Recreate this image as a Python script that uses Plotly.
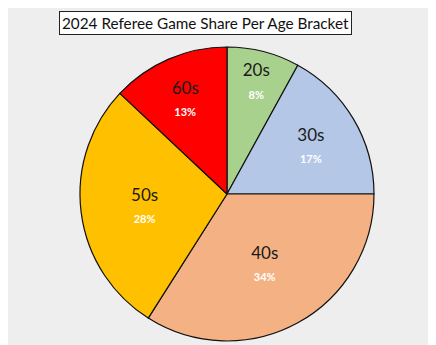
import plotly.graph_objects as go

age_brackets = ["20s", "30s", "40s", "50s", "60s"]
game_share = [8, 17, 34, 28, 13]
slice_colours = ["#A9D18E", "#B4C7E7", "#F4B183", "#FFC000", "#FF0000"]

W, H = 436, 345
# page body adds an 8px offset, so target positions are shifted back by 8
off = 8
cx, cy, r = 227 - off, 194 - off, 147

fig = go.Figure()

fig.add_trace(
    go.Pie(
        labels=age_brackets,
        values=game_share,
        sort=False,
        direction="clockwise",
        rotation=0,
        marker=dict(colors=slice_colours, line=dict(color="#111111", width=1.2)),
        texttemplate="%{label}<br><span style='font-size:11px;color:white'><b>%{percent:.0%}</b></span>",
        textposition="inside",
        insidetextorientation="horizontal",
        textfont=dict(family="Lato", size=17, color="#1a1a1a"),
        hoverinfo="label+percent",
        showlegend=False,
        domain=dict(
            x=[(cx - r) / W, (cx + r) / W],
            y=[(H - cy - r) / H, (H - cy + r) / H],
        ),
    )
)

fig.add_annotation(
    text="2024 Referee Game Share Per Age Bracket",
    x=(205.5 - off) / W, y=1 - (22.5 - off) / H,
    xref="paper", yref="paper",
    xanchor="center", yanchor="middle",
    showarrow=False,
    font=dict(family="Lato", size=15.3, color="#111111"),
    bgcolor="white",
    bordercolor="#222222",
    borderwidth=1,
    borderpad=2,
)

fig.update_layout(
    width=W,
    height=H,
    margin=dict(l=0, r=0, t=0, b=0),
    paper_bgcolor="#EEEEEE",
    plot_bgcolor="#EEEEEE",
)

fig.write_html("out.html")
